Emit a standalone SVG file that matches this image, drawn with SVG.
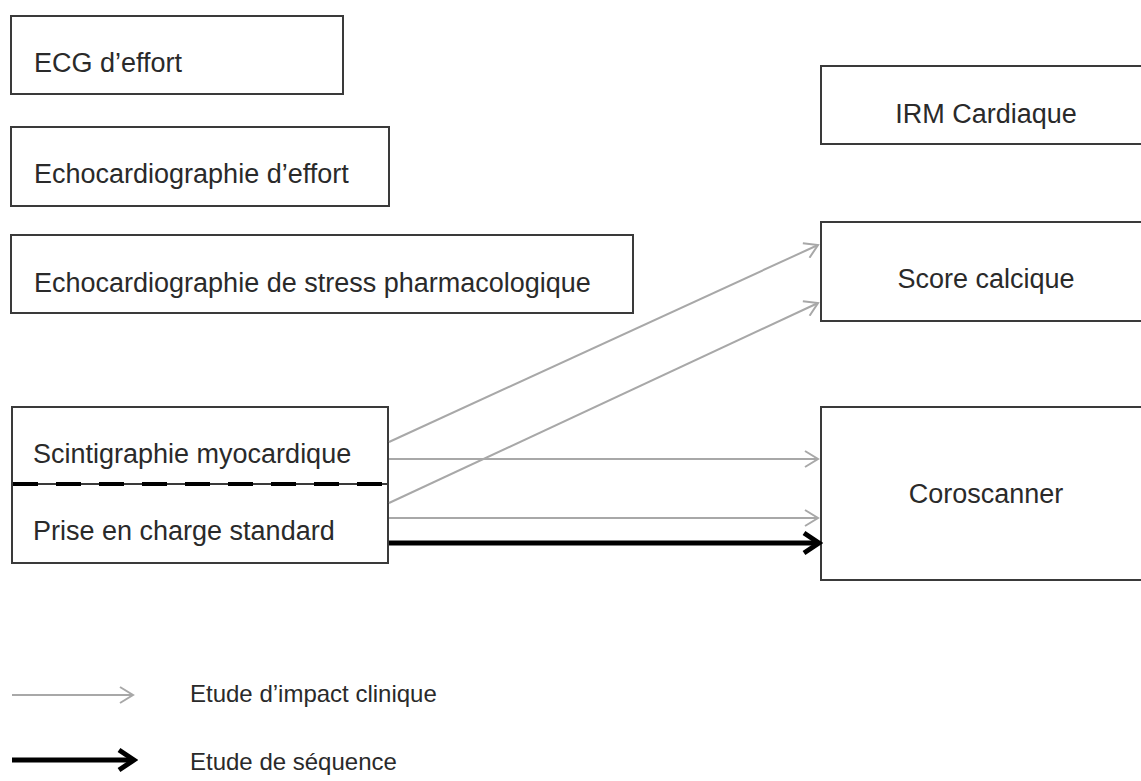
<svg xmlns="http://www.w3.org/2000/svg" width="1141" height="781" viewBox="0 0 1141 781">
<style>
.box{fill:#fff;stroke:#3a3a3a;stroke-width:2}
.t{font-family:"Liberation Sans",Arial,sans-serif;font-size:27px;fill:#2a2a2a}
.c{text-anchor:middle}
.g{stroke:#a8a8a8;stroke-width:2;fill:none}
.k{stroke:#000;stroke-width:5;fill:none}
</style>
<defs>
<marker id="ag" markerUnits="userSpaceOnUse" viewBox="0 0 16 18" refX="14" refY="9" markerWidth="16" markerHeight="18" orient="auto">
<path d="M1,1 L14,9 L1,17" fill="none" stroke="#a8a8a8" stroke-width="2"/>
</marker>
<marker id="ak" markerUnits="userSpaceOnUse" viewBox="0 0 22 26" refX="18" refY="13" markerWidth="22" markerHeight="26" orient="auto">
<path d="M3,3 L18,13 L3,23" fill="none" stroke="#000" stroke-width="5"/>
</marker>
</defs>
<g id="ecg"><rect class="box" x="11" y="16" width="332" height="78"/><text class="t" x="34" y="72">ECG d’effort</text></g>
<g id="echo-effort"><rect class="box" x="11" y="127" width="378" height="79"/><text class="t" x="34" y="183">Echocardiographie d’effort</text></g>
<g id="echo-stress"><rect class="box" x="11" y="235" width="622" height="78"/><text class="t" x="34" y="292">Echocardiographie de stress pharmacologique</text></g>
<g id="scinti"><rect class="box" x="12" y="407" width="376" height="77"/><text class="t" x="33" y="463">Scintigraphie myocardique</text></g>
<g id="standard"><rect class="box" x="12" y="484" width="376" height="79"/><text class="t" x="33" y="540">Prise en charge standard</text>
<line x1="13" y1="484" x2="388" y2="484" stroke="#000" stroke-width="4" stroke-dasharray="25,18"/></g>
<g id="irm"><rect class="box" x="821" y="66" width="330" height="78"/><text class="t c" x="986" y="123">IRM Cardiaque</text></g>
<g id="score"><rect class="box" x="821" y="222" width="330" height="99"/><text class="t c" x="986" y="288">Score calcique</text></g>
<g id="coro"><rect class="box" x="821" y="407" width="330" height="173"/><text class="t c" x="986" y="503">Coroscanner</text></g>
<g id="connectors">
<line class="g" x1="389" y1="442" x2="818" y2="245" marker-end="url(#ag)"/>
<line class="g" x1="389" y1="503" x2="818" y2="303" marker-end="url(#ag)"/>
<line class="g" x1="389" y1="459" x2="818" y2="459" marker-end="url(#ag)"/>
<line class="g" x1="389" y1="518" x2="818" y2="518" marker-end="url(#ag)"/>
<line class="k" x1="389" y1="543" x2="819" y2="543" marker-end="url(#ak)"/>
</g>
<g id="legend">
<line class="g" x1="12" y1="695" x2="133" y2="695" marker-end="url(#ag)"/>
<line class="k" x1="12" y1="760" x2="134" y2="760" marker-end="url(#ak)"/>
<text class="t" x="190" y="702" style="font-size:24px">Etude d’impact clinique</text>
<text class="t" x="190" y="770" style="font-size:24px">Etude de séquence</text>
</g>
</svg>
